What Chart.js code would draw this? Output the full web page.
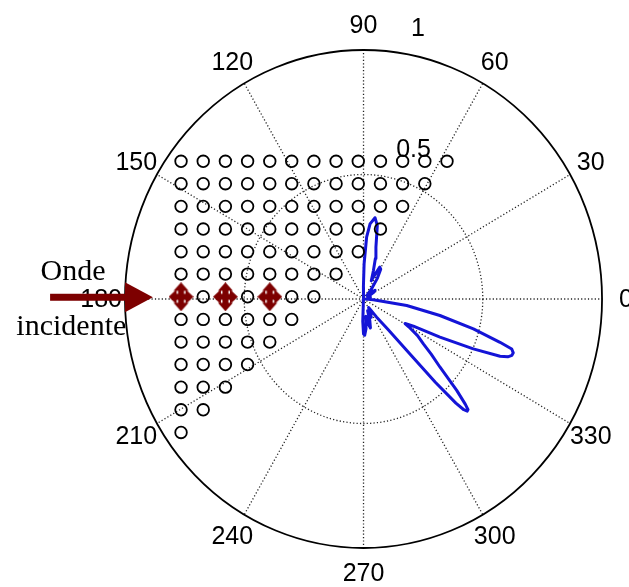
<!DOCTYPE html>
<html>
<head>
<meta charset="utf-8">
<script src="https://cdn.jsdelivr.net/npm/chart.js@4/dist/chart.umd.min.js"></script>
<style>
html,body{margin:0;padding:0;background:#fff;}
#c{display:block;}
</style>
</head>
<body>
<canvas id="c" width="629" height="587"></canvas>
<script>
// radiation pattern: angle (deg) and normalised magnitude
var patternDeg = [-180, -100, -95, -92, -90, -88, -85, -82, -79, -76, -73, -70, -66, -62, -58, -53, -50, -48.6, -48, -47.2, -46.6, -46, -45.4, -44.7, -43.2, -40.5, -38, -35.7, -33, -30.5, -29.5, -27.6, -25.5, -23.5, -21.9, -21, -20, -19, -17.9, -16.9, -14.6, -11.7, -8.2, -4, -2, 0, 5, 15, 25, 32, 36, 40, 45, 50, 55, 59, 62, 64, 66, 70, 73, 76, 78.9, 81.6, 84.8, 87, 89, 90.5, 93, 100, 180];
var patternR   = [0, 0, 0.02, 0.09, 0.14, 0.145, 0.12, 0.07, 0.1, 0.12, 0.09, 0.05, 0.08, 0.06, 0.04, 0.09, 0.16, 0.3, 0.45, 0.57, 0.612, 0.626, 0.624, 0.6, 0.536, 0.422, 0.36, 0.309, 0.27, 0.22, 0.2, 0.236, 0.355, 0.502, 0.617, 0.648, 0.662, 0.664, 0.653, 0.598, 0.476, 0.327, 0.183, 0.041, 0.02, 0.01, 0.02, 0.03, 0.02, 0.05, 0.06, 0.04, 0.02, 0.05, 0.1, 0.14, 0.145, 0.11, 0.08, 0.121, 0.17, 0.215, 0.3, 0.33, 0.303, 0.249, 0.141, 0.05, 0.01, 0, 0];

// array elements (triangular grid)
var elemX = [-0.765, -0.672, -0.579, -0.486, -0.393, -0.301, -0.208, -0.115, -0.022, 0.071, 0.164, 0.257, 0.350];
var elemRowY = [0.553, 0.463, 0.372, 0.281, 0.190, 0.100, 0.009, -0.082, -0.173, -0.263, -0.354, -0.445, -0.536];
var elemRowCount = [13, 12, 11, 10, 9, 8, 7, 6, 5, 4, 3, 2, 1];
var activeRow = 6;
var activeCols = [0, 2, 4];

var angleTicks = [0, 30, 60, 90, 120, 150, 180, 210, 240, 270, 300, 330];
var ringTicks = [0.5, 1];
var ringLabels = ['0.5', '1'];

var patternPts = patternDeg.map(function(d, i) {
  var t = d * Math.PI / 180;
  return {x: patternR[i] * Math.cos(t), y: patternR[i] * Math.sin(t)};
});

var circlePts = [], activePts = [];
elemRowY.forEach(function(y, row) {
  for (var c = 0; c < elemRowCount[row]; c++) {
    if (row == activeRow && activeCols.indexOf(c) >= 0) activePts.push({x: elemX[c], y: y});
    else circlePts.push({x: elemX[c], y: y});
  }
});

// four way arrow marker
var mk = document.createElement('canvas');
mk.width = 25; mk.height = 29;
(function() {
  var g = mk.getContext('2d');
  g.fillStyle = '#7d0000';
  g.fillRect(9.5, 4, 6, 21);
  g.fillRect(4, 11.5, 17, 6);
  var tri = function(a, b, c) {
    g.beginPath(); g.moveTo(a[0], a[1]); g.lineTo(b[0], b[1]); g.lineTo(c[0], c[1]); g.closePath(); g.fill();
  };
  tri([12.5, 0], [5, 8.5], [20, 8.5]);
  tri([12.5, 29], [5, 20.5], [20, 20.5]);
  tri([0, 14.5], [8, 7], [8, 22]);
  tri([25, 14.5], [17, 7], [17, 22]);
})();

var polarGrid = {
  id: 'polarGrid',
  beforeDatasetsDraw: function(chart) {
    var ctx = chart.ctx, xs = chart.scales.x, ys = chart.scales.y;
    var cx = xs.getPixelForValue(0), cy = ys.getPixelForValue(0);
    ctx.save();
    ctx.strokeStyle = '#222';
    ctx.lineWidth = 1.3;
    ctx.setLineDash([1.2, 2.2]);
    angleTicks.forEach(function(a) {
      var t = a * Math.PI / 180;
      ctx.beginPath();
      ctx.moveTo(cx, cy);
      ctx.lineTo(xs.getPixelForValue(Math.cos(t)), ys.getPixelForValue(Math.sin(t)));
      ctx.stroke();
    });
    ringTicks.forEach(function(r, i) {
      var rx = xs.getPixelForValue(r) - cx, ry = cy - ys.getPixelForValue(r);
      if (i == ringTicks.length - 1) {
        ctx.setLineDash([]);
        ctx.strokeStyle = '#000';
        ctx.lineWidth = 1.8;
      }
      ctx.beginPath();
      ctx.ellipse(cx, cy, rx, ry, 0, 0, Math.PI * 2);
      ctx.stroke();
    });
    ctx.fillStyle = '#000';
    ctx.font = '25px "Liberation Sans", Arial, sans-serif';
    ctx.textAlign = 'center';
    ctx.textBaseline = 'middle';
    angleTicks.forEach(function(a) {
      var t = a * Math.PI / 180;
      ctx.fillText(String(a), xs.getPixelForValue(1.1 * Math.cos(t)), ys.getPixelForValue(1.1 * Math.sin(t)) + 1);
    });
    ctx.textAlign = 'left';
    ctx.fillText(ringLabels[0], xs.getPixelForValue(0.137), ys.getPixelForValue(0.596));
    ctx.fillText(ringLabels[1], xs.getPixelForValue(0.199), ys.getPixelForValue(1.082));
    ctx.restore();
  },
  afterDatasetsDraw: function(chart) {
    var ctx = chart.ctx, xs = chart.scales.x, ys = chart.scales.y;
    var ay = ys.getPixelForValue(0.007);
    ctx.save();
    ctx.fillStyle = '#7d0000';
    var x0 = xs.getPixelForValue(-1.314), xb = xs.getPixelForValue(-1.0), xt = xs.getPixelForValue(-0.883);
    ctx.fillRect(x0, ay - 3.5, xb - x0 + 2, 7);
    ctx.beginPath();
    ctx.moveTo(xb, ay - 15);
    ctx.lineTo(xt, ay);
    ctx.lineTo(xb, ay + 15);
    ctx.closePath();
    ctx.fill();
    ctx.fillStyle = '#000';
    ctx.font = '30px "Liberation Serif", "Times New Roman", serif';
    ctx.textAlign = 'center';
    ctx.textBaseline = 'alphabetic';
    ctx.fillText('Onde', xs.getPixelForValue(-1.218), 280);
    ctx.fillText('incidente', xs.getPixelForValue(-1.225), 335);
    ctx.restore();
  }
};

new Chart(document.getElementById('c'), {
  type: 'scatter',
  data: {
    datasets: [{
      data: circlePts,
      pointStyle: 'circle',
      pointRadius: 5.8,
      borderColor: '#000',
      borderWidth: 1.8,
      backgroundColor: 'rgba(0,0,0,0)'
    }, {
      data: activePts,
      pointStyle: mk,
      pointRadius: 12
    }, {
      data: patternPts,
      showLine: true,
      pointRadius: 0,
      borderColor: 'rgb(20,20,215)',
      borderWidth: 3,
      borderJoinStyle: 'round',
      tension: 0
    }]
  },
  options: {
    responsive: false,
    animation: false,
    events: [],
    layout: {padding: 0, autoPadding: false},
    plugins: {legend: {display: false}, tooltip: {enabled: false}},
    scales: {
      x: {type: 'linear', min: -1.524, max: 1.113, display: false},
      y: {type: 'linear', min: -1.1566, max: 1.2008, display: false}
    }
  },
  plugins: [polarGrid]
});
</script>
</body>
</html>
